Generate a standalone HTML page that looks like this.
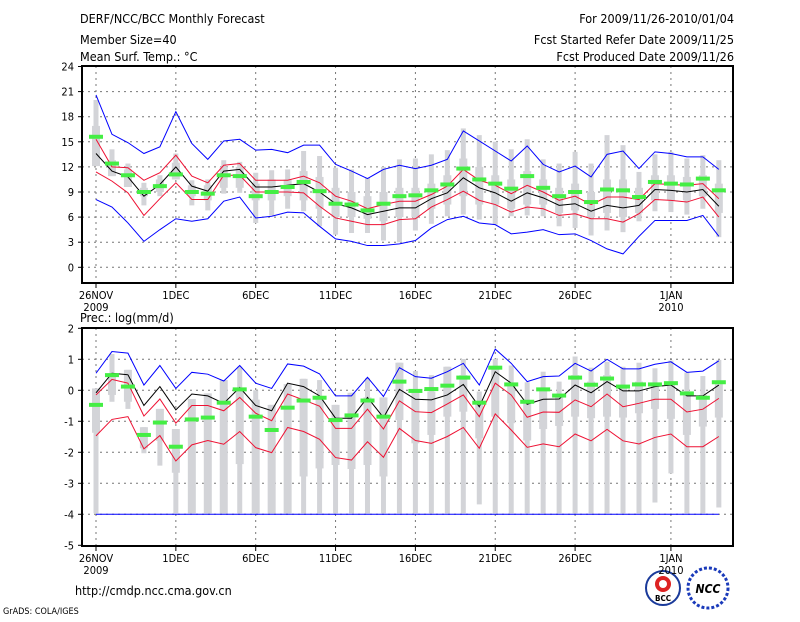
<!DOCTYPE html>
<html><head><meta charset="utf-8"><style>
body{margin:0;background:#fff;width:800px;height:618px;overflow:hidden;font-family:"DejaVu Sans","Liberation Sans",sans-serif}
svg text{font-family:"DejaVu Sans Condensed","Liberation Sans",sans-serif;fill:#000}
</style></head><body>
<svg id="c" width="800" height="618">
<text x="80" y="23" font-size="12.5">DERF/NCC/BCC Monthly Forecast</text>
<text x="80" y="44" font-size="12.5">Member Size=40</text>
<text x="80" y="61" font-size="12.5">Mean Surf. Temp.: °C</text>
<text x="734" y="23" font-size="12.5" text-anchor="end">For 2009/11/26-2010/01/04</text>
<text x="734" y="44" font-size="12.5" text-anchor="end">Fcst Started Refer Date 2009/11/25</text>
<text x="734" y="61" font-size="12.5" text-anchor="end">Fcst Produced Date 2009/11/26</text>
<text x="80" y="322" font-size="12.5">Prec.: log(mm/d)</text>
<text x="75" y="595" font-size="12.5">http://cmdp.ncc.cma.gov.cn</text>
<text x="3" y="614" font-size="9">GrADS: COLA/IGES</text>
<g><circle cx="663" cy="588" r="17" fill="#fff" stroke="#1a3a9a" stroke-width="2"/><circle cx="663" cy="584" r="8" fill="#d22"/><circle cx="663" cy="584" r="4" fill="#fff"/><text x="663" y="601" font-size="8" text-anchor="middle" font-weight="bold" fill="#1a3a9a">BCC</text></g>
<g><circle cx="708" cy="588" r="20" fill="#fff" stroke="#1a3aba" stroke-width="3" stroke-dasharray="3 2"/><text x="708" y="593" font-size="12" text-anchor="middle" font-style="italic" font-weight="bold" fill="#1a3aba">NCC</text></g>
</svg>
<script>
// ---- temperature panel data ----
const days = ["26NOV","1DEC","6DEC","11DEC","16DEC","21DEC","26DEC","1JAN"];
const dayIdx = [0,5,10,15,20,25,30,36];
const yearLabels = ["2009","","","","","","","2010"];
const tTicks = [0,3,6,9,12,15,18,21,24];
const tMax = [20.6,15.9,14.9,13.6,14.4,18.6,14.8,12.9,15.1,15.3,14.0,14.1,13.7,14.6,14.6,12.3,11.5,10.6,11.7,12.2,11.8,12.2,12.9,16.3,15.1,13.9,12.7,14.5,12.3,11.4,12.1,10.8,13.5,13.9,11.8,13.8,13.6,13.2,13.2,11.7];
const tMin = [8.1,7.2,5.3,3.1,4.5,5.8,5.5,5.8,7.9,8.4,5.9,6.1,6.6,6.5,4.9,3.4,3.1,2.6,2.6,2.8,3.2,4.7,5.7,6.1,5.3,5.1,4.0,4.2,4.5,3.9,4.0,3.2,2.2,1.6,3.7,5.6,5.6,5.6,6.2,3.7];
const tHi = [15.3,12.0,11.9,10.4,11.3,13.4,10.9,10.1,12.2,12.4,10.4,10.4,10.4,10.9,10.1,8.5,7.9,7.0,7.5,7.9,7.9,8.7,9.7,11.7,10.4,9.8,8.8,9.8,9.0,8.0,8.5,7.5,8.4,8.4,8.1,10.0,9.9,9.8,10.0,8.2];
const tLo = [11.4,10.3,8.9,6.2,8.2,10.1,8.1,8.1,11.0,11.0,9.0,9.0,9.0,8.9,7.3,5.9,5.5,5.1,5.1,5.7,5.8,7.2,8.1,9.1,8.0,7.5,6.6,7.2,7.0,6.2,6.4,5.8,5.8,5.4,6.4,8.1,8.0,7.8,8.4,6.0];
const tMean = [13.6,11.5,10.8,8.5,9.9,12.0,9.7,9.1,11.5,11.7,9.6,9.6,9.8,10.0,9.0,7.6,7.1,6.3,6.7,7.1,7.1,8.2,8.9,10.7,9.5,8.9,7.9,8.9,8.3,7.4,7.6,6.7,7.4,7.1,7.4,9.3,9.2,9.0,9.3,7.3];
const tObs = [15.6,12.4,11.0,9.0,9.7,11.1,9.0,8.8,11.0,10.9,8.5,9.0,9.6,10.2,9.1,7.6,7.5,6.8,7.6,8.5,8.6,9.2,9.9,11.8,10.5,10.0,9.4,10.9,9.5,8.5,9.0,7.8,9.3,9.2,8.4,10.2,10.0,9.9,10.6,9.2];
const tBarTop = [20.0,14.1,12.4,10.1,11.0,13.6,10.4,10.5,12.8,12.6,11.3,11.6,11.7,13.9,13.3,11.9,11.7,10.7,12.0,12.9,13.0,13.5,14.0,16.6,15.8,15.0,14.1,15.3,12.9,12.4,13.8,12.4,15.8,14.6,11.4,13.5,13.8,13.0,13.4,12.8];
const tBarBot = [12.1,10.9,9.6,7.4,8.5,10.5,7.4,6.8,8.8,8.9,5.3,6.2,7.0,6.7,4.9,3.9,4.1,4.1,3.2,3.0,4.4,5.2,6.1,6.3,5.7,5.1,6.1,6.2,6.1,4.9,4.7,3.8,4.4,4.2,5.5,6.7,6.6,6.3,7.0,3.6];
const tBoxTop = [16.9,12.8,11.7,9.5,10.5,12.5,9.8,9.8,12.0,12.0,10.0,10.5,10.5,11.5,10.8,9.5,9.0,8.5,9.0,9.5,9.5,10.0,11.0,13.0,12.0,11.0,10.5,11.5,10.5,9.5,10.0,9.0,10.5,10.5,9.5,11.0,11.0,10.8,11.0,10.0];
const tBoxBot = [12.1,10.9,9.6,8.5,9.0,10.5,8.5,8.0,9.5,9.5,8.0,8.0,8.5,8.0,7.0,6.0,6.0,5.8,5.5,6.0,6.0,7.0,7.5,8.5,7.5,7.5,7.0,7.5,7.5,6.5,6.8,6.0,6.5,6.0,6.5,8.0,8.0,8.0,8.5,6.5];
// ---- precipitation panel data ----
const pTicks = [2,1,0,-1,-2,-3,-4,-5];
const pMax = [0.55,1.25,1.2,0.17,0.8,0.06,0.58,0.52,0.3,0.8,0.23,0.06,0.85,0.78,0.53,-0.18,-0.18,0.42,-0.2,0.73,0.44,0.39,0.6,0.87,0.17,1.33,0.87,0.28,0.44,0.46,0.87,0.62,1.0,0.69,0.69,0.84,0.92,0.58,0.62,0.95];
const pMin = [-4,-4,-4,-4,-4,-4,-4,-4,-4,-4,-4,-4,-4,-4,-4,-4,-4,-4,-4,-4,-4,-4,-4,-4,-4,-4,-4,-4,-4,-4,-4,-4,-4,-4,-4,-4,-4,-4,-4,-4];
const pHi = [-0.15,0.35,0.23,-0.83,-0.28,-1.06,-0.49,-0.49,-0.66,-0.23,-0.74,-0.98,-0.12,-0.31,-0.51,-1.23,-1.23,-0.61,-1.25,-0.34,-0.69,-0.72,-0.44,-0.15,-0.85,0.23,-0.15,-0.87,-0.7,-0.71,-0.31,-0.53,-0.12,-0.53,-0.42,-0.29,-0.29,-0.7,-0.61,-0.26];
const pLo = [-1.47,-0.94,-0.85,-1.89,-1.46,-2.28,-1.76,-1.62,-1.74,-1.33,-1.85,-2.01,-1.2,-1.33,-1.58,-2.17,-2.25,-1.66,-2.16,-1.23,-1.62,-1.71,-1.49,-1.2,-1.87,-0.76,-1.28,-1.84,-1.73,-1.82,-1.41,-1.63,-1.26,-1.63,-1.73,-1.52,-1.41,-1.82,-1.82,-1.49];
const pMean = [-0.08,0.55,0.5,-0.49,0.12,-0.63,-0.12,-0.18,-0.42,0.09,-0.49,-0.66,0.23,0.12,-0.18,-0.9,-0.9,-0.23,-0.88,0.03,-0.29,-0.31,-0.15,0.19,-0.53,0.6,0.23,-0.45,-0.29,-0.28,0.17,-0.08,0.28,-0.02,-0.02,0.12,0.17,-0.18,-0.18,0.17];
const pObs = [-0.47,0.49,0.12,-1.44,-1.04,-1.82,-0.94,-0.88,-0.4,0.03,-0.85,-1.28,-0.56,-0.33,-0.24,-0.96,-0.81,-0.33,-0.85,0.28,-0.02,0.04,0.15,0.41,-0.4,0.73,0.19,-0.37,0.03,-0.17,0.41,0.18,0.38,0.12,0.19,0.19,0.23,-0.1,-0.24,0.26];
const pBarTop = [0.06,1.17,0.66,-1.19,-0.6,-1.25,-0.28,-0.1,0.33,0.76,0.0,-0.47,0.2,0.37,0.33,-0.47,-0.08,0.39,-0.23,0.89,0.62,0.49,0.76,1.01,-0.04,1.01,0.8,0.26,0.6,0.28,1.09,0.73,0.92,0.76,0.89,0.71,0.96,0.57,0.46,0.98];
const pBarBot = [-3.97,-0.37,-0.6,-2.03,-2.43,-3.97,-3.97,-3.97,-3.97,-3.97,-3.97,-3.97,-3.97,-3.97,-3.97,-3.97,-3.97,-3.97,-3.97,-3.97,-3.97,-3.97,-3.97,-3.97,-3.68,-3.97,-3.97,-3.97,-3.97,-3.97,-3.97,-3.97,-3.97,-3.97,-3.97,-3.62,-2.68,-3.97,-3.97,-3.78];
const pBoxTop = [0.06,0.55,0.66,-1.19,-0.6,-1.25,-0.28,-0.1,0.33,0.0,-0.3,-0.47,0.2,0.37,-0.26,-0.47,-0.08,-0.23,-0.23,0.89,0.0,-0.04,0.76,0.49,-0.42,0.76,0.23,-0.37,0.06,-0.15,0.49,0.28,0.49,0.17,0.28,0.23,0.28,-0.04,-0.15,0.28];
const pBoxBot = [-1.37,-0.15,-0.37,-1.87,-1.63,-2.66,-3.97,-3.97,-3.97,-2.38,-3.97,-3.97,-3.97,-2.78,-2.52,-2.41,-2.54,-2.41,-2.78,-0.96,-1.71,-1.44,-0.85,-0.69,-1.55,-0.85,-1.06,-1.62,-1.25,-1.15,-0.85,-0.9,-0.85,-0.88,-0.74,-0.6,-0.92,-1.44,-1.17,-0.88];

const svg = document.getElementById('c');
const NS = 'http://www.w3.org/2000/svg';
function mk(tag, attrs, parent){const e=document.createElementNS(NS,tag);for(const k in attrs)e.setAttribute(k,attrs[k]);(parent||svg).appendChild(e);return e;}
const xOf = d => 96 + d*15.97;

function panel(o){
  const yOf = v => o.y0 + (v - o.v0)*o.k;
  const g = mk('g',{});
  
  
  // grid
  o.ticks.forEach(t=>{ if(yOf(t)>o.top+1 && yOf(t)<o.bot-1){ const l=mk('line',{x1:o.left,x2:o.right,y1:yOf(t),y2:yOf(t),stroke:'#777','stroke-dasharray':'2 4'},g);
      }});
  dayIdx.forEach(d=>{ const l=mk('line',{x1:xOf(d),x2:xOf(d),y1:o.top,y2:o.bot,stroke:'#777','stroke-dasharray':'2 4'},g);
      });
  // bars
  for(let i=0;i<o.barTop.length;i++){
    const x=xOf(i);
    const b=mk('rect',{x:x-2.5,y:yOf(o.barTop[i]),width:5,height:yOf(o.barBot[i])-yOf(o.barTop[i]),fill:'#d3d4d8'},g);
     
    const bx=mk('rect',{x:x-4,y:yOf(o.boxTop[i]),width:8,height:yOf(o.boxBot[i])-yOf(o.boxTop[i]),fill:'#d3d4d8'},g);
     
  }
  const line=(arr,col,nm,w)=>{const p=mk('polyline',{points:arr.map((v,i)=>xOf(i)+','+yOf(v)).join(' '),fill:'none',stroke:col,'stroke-width':w||1},g);
     };
  line(o.max,'#0000ff','max-line');
  line(o.min,'#0000ff','min-line');
  line(o.hi,'#ee1133','upper-quartile-line');
  line(o.lo,'#ee1133','lower-quartile-line');
  line(o.mean,'#000','ensemble-mean-line');
  o.obs.forEach((v,i)=>{const r=mk('rect',{x:xOf(i)-7,y:yOf(v)-2,width:14,height:4,fill:'#44ee44'},g);
     });
  // frame
  const f=mk('rect',{x:o.left,y:o.top,width:o.right-o.left,height:o.bot-o.top,fill:'none',stroke:'#000','stroke-width':2},g);
   
  o.ticks.forEach(t=>{ const tx=mk('text',{x:o.left-8,y:yOf(t)+4,'font-size':11,'text-anchor':'end'},g); tx.textContent=t;
     
    mk('line',{x1:o.left-4,x2:o.left,y1:yOf(t),y2:yOf(t),stroke:'#000'},g);});
  dayIdx.forEach((d,j)=>{ mk('line',{x1:xOf(d),x2:xOf(d),y1:o.bot,y2:o.bot+5,stroke:'#000'},g);
    const tx=mk('text',{x:xOf(d),y:o.bot+16,'font-size':11,'text-anchor':'middle'},g); tx.textContent=days[j];
     
    if(yearLabels[j]){const ty=mk('text',{x:xOf(d),y:o.bot+28,'font-size':11,'text-anchor':'middle'},g); ty.textContent=yearLabels[j];
       }});
}
panel({name:'temperature-panel',left:82,right:733,top:66,bot:283,y0:267.3,v0:0,k:-25.1/3,ticks:tTicks,
  max:tMax,min:tMin,hi:tHi,lo:tLo,mean:tMean,obs:tObs,barTop:tBarTop,barBot:tBarBot,boxTop:tBoxTop,boxBot:tBoxBot});
panel({name:'precipitation-panel',left:82,right:733,top:328,bot:546,y0:390.3,v0:0,k:-31,ticks:pTicks,
  max:pMax,min:pMin,hi:pHi,lo:pLo,mean:pMean,obs:pObs,barTop:pBarTop,barBot:pBarBot,boxTop:pBoxTop,boxBot:pBoxBot});
</script>
</body></html>
